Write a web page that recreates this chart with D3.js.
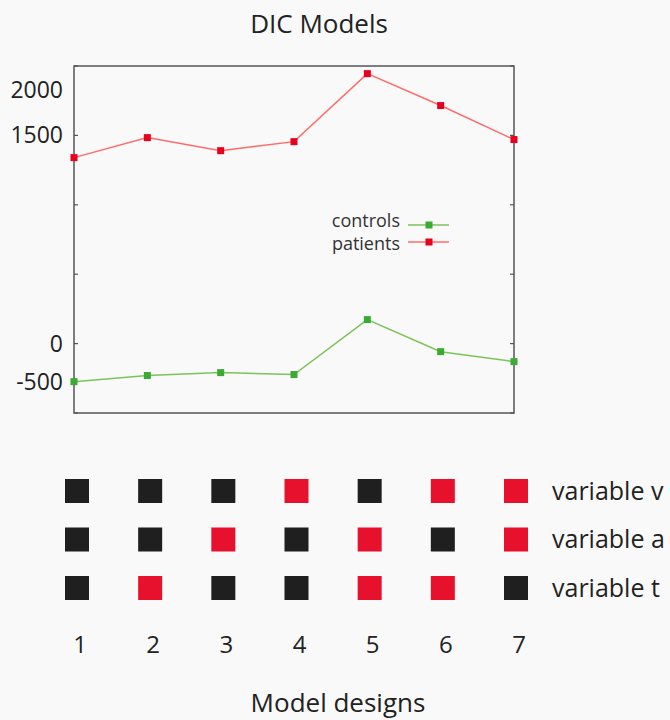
<!DOCTYPE html>
<html>
<head>
<meta charset="utf-8">
<script src="https://cdn.jsdelivr.net/npm/d3@7"></script>
<style>
  body { margin: 0; background: #f9f9f9; }
  svg { display: block; font-family: "Open Sans", "Noto Sans", sans-serif; }
</style>
</head>
<body>
<div id="chart"></div>
<script>
// data
const models = [1, 2, 3, 4, 5, 6, 7];
const patients = [1340, 1484, 1390, 1455, 1945, 1715, 1470];
const controls = [-274, -230, -209, -223, 173, -58, -130];
const yTicks = [-500, 0, 500, 1000, 1500, 2000];
const yLabels = [-500, 0, 1500, 2000];
const variables = ["variable v", "variable a", "variable t"];
// 1 = included (red), 0 = not (black)
const designV = [0, 0, 0, 1, 0, 1, 1];
const designA = [0, 0, 1, 0, 1, 0, 1];
const designT = [0, 1, 0, 0, 1, 1, 0];

const W = 670, H = 720;
const plot = { left: 74, right: 514, top: 66, bottom: 413 };

const svg = d3.select('#chart').append('svg')
  .attr('width', W).attr('height', H);

svg.append('rect').attr('width', W).attr('height', H).attr('fill', '#f9f9f9');

const x = d3.scaleLinear().domain([1, 7]).range([plot.left, plot.right]);
const y = d3.scaleLinear().domain([-500, 2000]).range([plot.bottom, plot.top]);

// title
svg.append('text')
  .attr('x', 319).attr('y', 33)
  .attr('text-anchor', 'middle')
  .attr('font-size', 26)
  .attr('fill', '#222')
  .text('DIC Models');

// frame
svg.append('rect')
  .attr('x', plot.left).attr('y', plot.top)
  .attr('width', plot.right - plot.left)
  .attr('height', plot.bottom - plot.top)
  .attr('fill', 'none')
  .attr('stroke', '#555')
  .attr('stroke-width', 1.5);

// inward ticks, left and right
const tickG = svg.append('g').attr('stroke', '#555').attr('stroke-width', 1.2);
yTicks.forEach(t => {
  tickG.append('line')
    .attr('x1', plot.left).attr('x2', plot.left + 4)
    .attr('y1', y(t)).attr('y2', y(t));
  tickG.append('line')
    .attr('x1', plot.right).attr('x2', plot.right - 4)
    .attr('y1', y(t)).attr('y2', y(t));
});

// tick labels (end labels sit pulled inside the frame, as in the original)
svg.append('g').selectAll('text')
  .data(yLabels)
  .enter().append('text')
  .attr('x', 63)
  .attr('y', d => y(d) + (d === 2000 ? 24 : d === -500 ? -31 : 0))
  .attr('dy', '0.35em')
  .attr('text-anchor', 'end')
  .attr('font-size', 23)
  .attr('fill', '#222')
  .text(d => d);

// series
const line = d3.line()
  .x((d, i) => x(models[i]))
  .y(d => y(d));

const series = [
  { name: 'controls', values: controls, line: '#7cc35a', mark: '#3aaa35' },
  { name: 'patients', values: patients, line: '#ff6b6b', mark: '#e8001c' }
];

series.forEach(s => {
  svg.append('path')
    .datum(s.values)
    .attr('fill', 'none')
    .attr('stroke', s.line)
    .attr('stroke-width', 1.5)
    .attr('d', line);

  svg.append('g').selectAll('rect')
    .data(s.values)
    .enter().append('rect')
    .attr('x', (d, i) => x(models[i]) - 3.5)
    .attr('y', d => y(d) - 3.5)
    .attr('width', 7).attr('height', 7)
    .attr('fill', s.mark);
});

// legend
const legend = svg.append('g');
series.forEach((s, i) => {
  const ly = 225 + i * 17;
  legend.append('text')
    .attr('x', 400).attr('y', 222 + i * 23)
    .attr('dy', '0.3em')
    .attr('text-anchor', 'end')
    .attr('font-size', 18)
    .attr('fill', '#333')
    .text(s.name);
  legend.append('line')
    .attr('x1', 408).attr('x2', 449)
    .attr('y1', ly).attr('y2', ly)
    .attr('stroke', s.line).attr('stroke-width', 1.5);
  legend.append('rect')
    .attr('x', 425.5).attr('y', ly - 3.5)
    .attr('width', 7).attr('height', 7)
    .attr('fill', s.mark);
});

// design grid
const designs = [designV, designA, designT];
const gx = d3.scaleLinear().domain([1, 7]).range([77, 516]);
const gy = d3.scalePoint().domain(variables).range([491, 588]);
const sq = 24;

designs.forEach((row, r) => {
  svg.append('g').selectAll('rect')
    .data(row)
    .enter().append('rect')
    .attr('x', (d, i) => gx(models[i]) - sq / 2)
    .attr('y', gy(variables[r]) - sq / 2)
    .attr('width', sq).attr('height', sq)
    .attr('fill', d => d ? '#e8112d' : '#1f1f1f');
});

svg.append('g').selectAll('text')
  .data(variables)
  .enter().append('text')
  .attr('x', 552)
  .attr('y', d => gy(d))
  .attr('dy', '0.35em')
  .attr('font-size', 25)
  .attr('fill', '#222')
  .text(d => d);

svg.append('g').selectAll('text')
  .data(models)
  .enter().append('text')
  .attr('x', d => gx(d) + 3)
  .attr('y', 653)
  .attr('text-anchor', 'middle')
  .attr('font-size', 24)
  .attr('fill', '#222')
  .text(d => d);

svg.append('text')
  .attr('x', 338).attr('y', 712)
  .attr('text-anchor', 'middle')
  .attr('font-size', 26)
  .attr('fill', '#222')
  .text('Model designs');
</script>
</body>
</html>
